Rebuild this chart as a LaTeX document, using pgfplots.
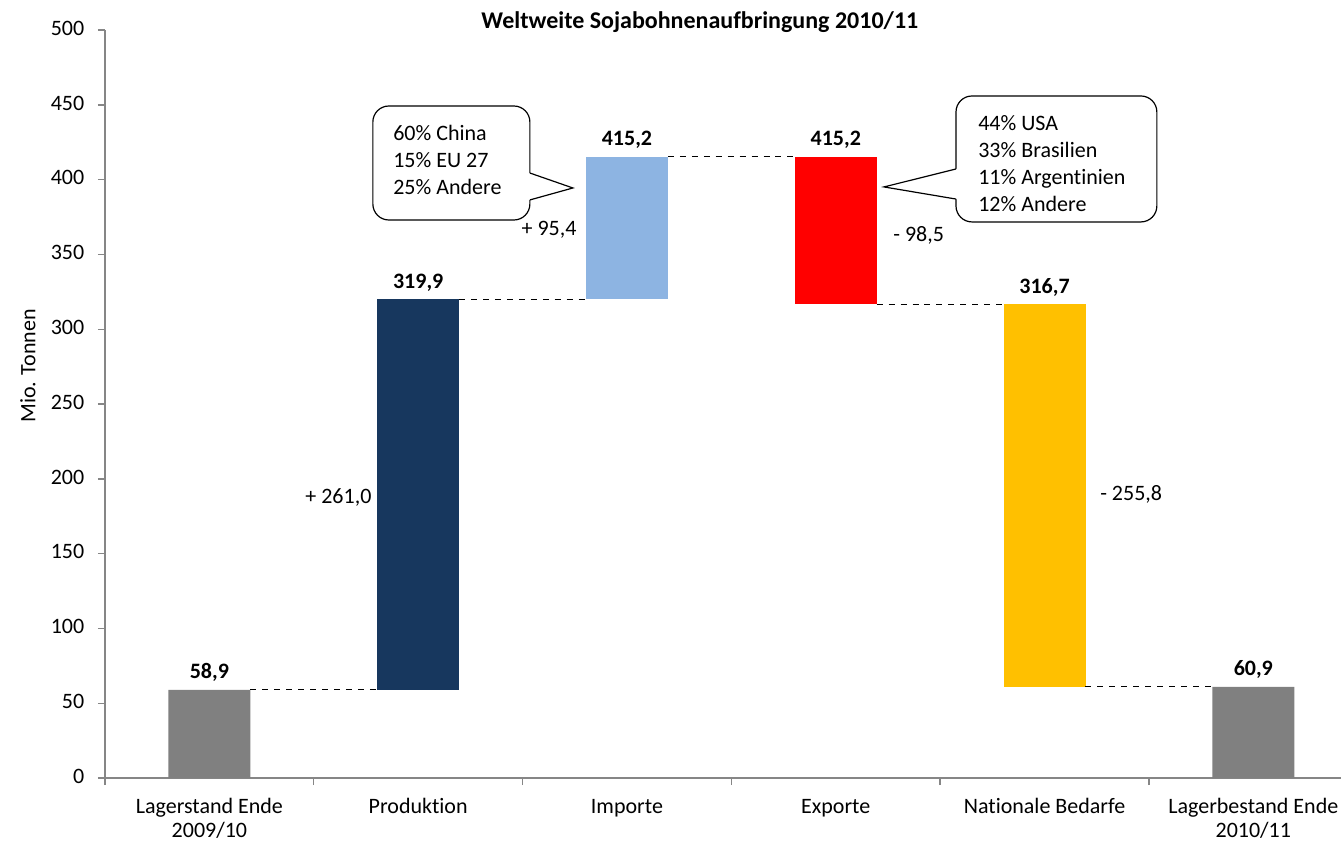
\documentclass[border=0pt]{standalone}
\usepackage{fontspec}
\setmainfont{Carlito}[Ligatures=NoCommon]
\usepackage{pgfplots}
\pgfplotsset{compat=1.18}
\definecolor{navy}{HTML}{17375E}
\definecolor{lblue}{HTML}{8DB4E2}
\definecolor{wred}{HTML}{FF0000}
\definecolor{gold}{HTML}{FFC000}
\definecolor{bgray}{HTML}{808080}
\definecolor{axgray}{HTML}{868686}
\begin{document}
\fontsize{11bp}{13.5bp}\selectfont
\begin{tikzpicture}
\useasboundingbox (-52.5bp,-34bp) rectangle (618bp,389bp);
\pgfplotsset{common/.style={
  at={(0,0)}, anchor=south west,
  width=618bp, height=374bp, scale only axis,
  xmin=-0.5, xmax=5.42, ymin=0, ymax=500, clip=false}}
\begin{axis}[common,
  ybar stacked, bar width=0.393,
  axis lines*=left,
  axis line style={draw=axgray, line width=0.9pt},
  ytick={0,50,...,500},
  tick align=outside,
  major tick length=3.5bp,
  minor tick length=3.5bp,
  y tick style={draw=axgray, line width=0.7pt},
  xtick={0,...,5},
  major x tick style={draw=none},
  minor xtick={-0.5,0.5,1.5,2.5,3.5,4.5},
  minor x tick style={draw=axgray, line width=0.7pt},
  xticklabels={{Lagerstand Ende\\2009/10},{Produktion},{Importe},{Exporte},{Nationale Bedarfe},{Lagerbestand Ende\\2010/11}},
  typeset ticklabels with strut,
  xticklabel style={align=center, font=\fontsize{11bp}{12bp}\selectfont, yshift=-2bp},
  yticklabel style={font=\fontsize{11bp}{13bp}\selectfont, xshift=-3bp},
  /pgf/number format/assume math mode=true,
  /pgf/number format/use comma,
]
\addplot[draw=none, fill=none] coordinates {(0,0) (1,58.9) (2,319.9) (3,316.7) (4,60.9) (5,0)};
\addplot[draw=none, fill=bgray] coordinates {(0,58.9) (1,0) (2,0) (3,0) (4,0) (5,60.9)};
\addplot[draw=none, fill=navy] coordinates {(0,0) (1,261.0) (2,0) (3,0) (4,0) (5,0)};
\addplot[draw=none, fill=lblue] coordinates {(0,0) (1,0) (2,95.3) (3,0) (4,0) (5,0)};
\addplot[draw=none, fill=wred] coordinates {(0,0) (1,0) (2,0) (3,98.5) (4,0) (5,0)};
\addplot[draw=none, fill=gold] coordinates {(0,0) (1,0) (2,0) (3,0) (4,255.8) (5,0)};
\end{axis}
\begin{axis}[common, hide axis]
\addplot[black, dashed, line width=0.6pt] coordinates {(0.196,58.9) (0.804,58.9)};
\addplot[black, dashed, line width=0.6pt] coordinates {(1.196,319.9) (1.804,319.9)};
\addplot[black, dashed, line width=0.6pt] coordinates {(2.196,415.2) (2.804,415.2)};
\addplot[black, dashed, line width=0.6pt] coordinates {(3.196,316.7) (3.804,316.7)};
\addplot[black, dashed, line width=0.6pt] coordinates {(4.196,60.9) (4.804,60.9)};
\begin{scope}[every node/.style={font=\bfseries\fontsize{11bp}{13bp}\selectfont, anchor=base, yshift=5.5bp}]
\node at (axis cs:0,58.9) {58,9};
\node at (axis cs:1,319.9) {319,9};
\node at (axis cs:2,415.2) {415,2};
\node at (axis cs:3,415.2) {415,2};
\node at (axis cs:4,316.7) {316,7};
\node at (axis cs:5,60.9) {60,9};
\end{scope}
\node[anchor=east, inner sep=0pt] at (axis cs:0.778,187.8) {+ 261,0};
\node[anchor=east, inner sep=0pt] at (axis cs:1.760,366.3) {+ 95,4};
\node[anchor=west, inner sep=0pt] at (axis cs:3.274,363.0) {- 98,5};
\node[anchor=west, inner sep=0pt] at (axis cs:4.265,189.8) {- 255,8};
% callout 1
\draw[black, line width=0.6pt, fill=white, rounded corners=8bp] (axis cs:0.783,373.0) rectangle (axis cs:1.535,449.2);
\fill[white] (axis cs:1.52,386.4) -- (axis cs:1.535,386.4) -- (axis cs:1.741,394.4) -- (axis cs:1.535,404.4) -- (axis cs:1.52,404.4) -- cycle;
\draw[black, line width=0.6pt] (axis cs:1.535,386.4) -- (axis cs:1.741,394.4) -- (axis cs:1.535,404.4);
\node[anchor=west, align=left, inner sep=0pt] at (axis cs:0.879,413.1) {60\% China\\15\% EU 27\\25\% Andere};
% callout 2
\draw[black, line width=0.6pt, fill=white, rounded corners=8bp] (axis cs:3.576,371.7) rectangle (axis cs:4.538,455.9);
\fill[white] (axis cs:3.591,387.0) -- (axis cs:3.576,387.0) -- (axis cs:3.231,395.1) -- (axis cs:3.576,407.1) -- (axis cs:3.591,407.1) -- cycle;
\draw[black, line width=0.6pt] (axis cs:3.576,387.0) -- (axis cs:3.231,395.1) -- (axis cs:3.576,407.1);
\node[anchor=west, align=left, inner sep=0pt] at (axis cs:3.681,410.4) {44\% USA\\33\% Brasilien\\11\% Argentinien\\12\% Andere};
\node[font=\bfseries\fontsize{12bp}{14bp}\selectfont] at (axis cs:2.349,505.6) {Weltweite Sojabohnenaufbringung 2010/11};
\node[rotate=90, font=\fontsize{11bp}{13bp}\selectfont] at ([xshift=-38.5bp]rel axis cs:0,0.551) {Mio. Tonnen};
\end{axis}
\end{tikzpicture}
\end{document}
